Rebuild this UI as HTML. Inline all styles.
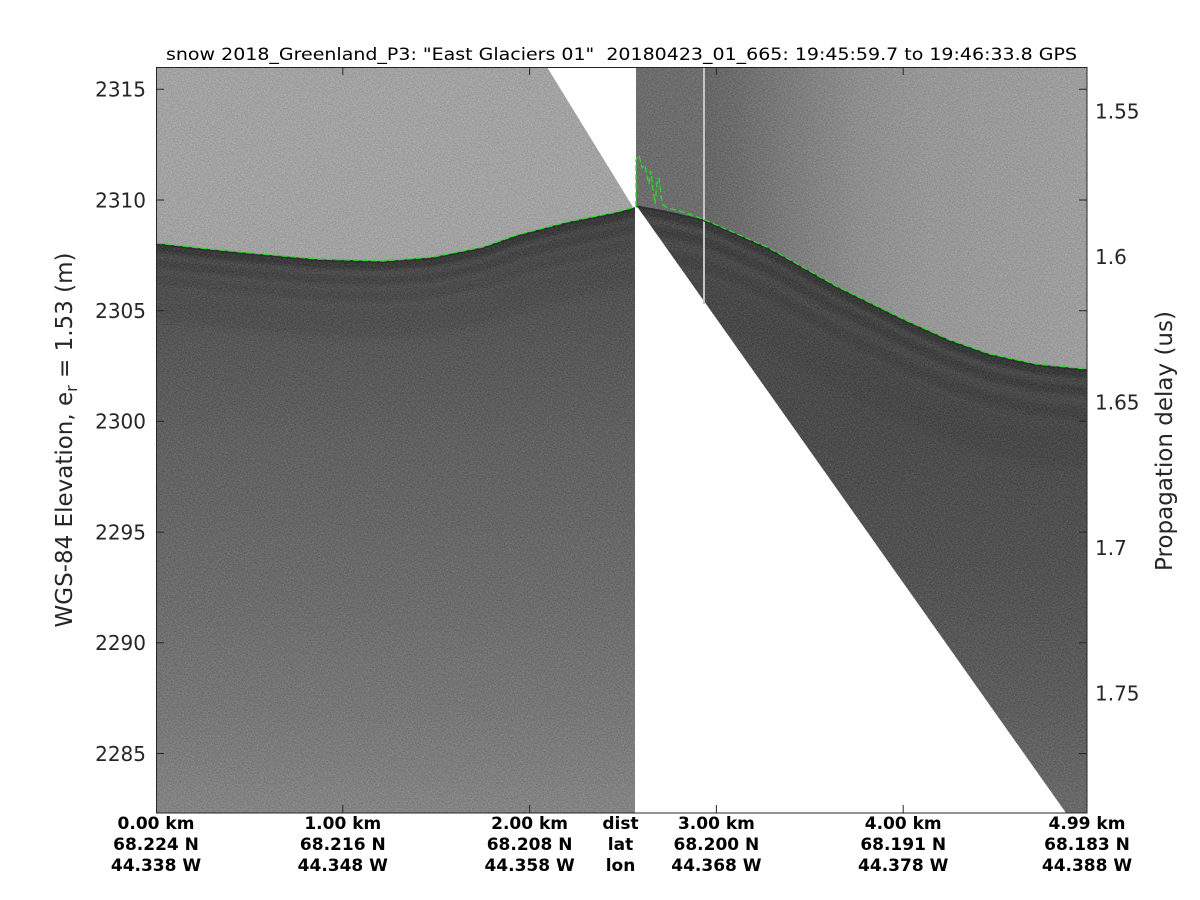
<!DOCTYPE html>
<html>
<head>
<meta charset="utf-8">
<style>
  html,body{margin:0;padding:0;background:#fff;}
  svg{display:block;}
  text{font-family:"DejaVu Sans","Liberation Sans",sans-serif;}
</style>
</head>
<body>
<svg width="1200" height="900" viewBox="0 0 1200 900" xmlns="http://www.w3.org/2000/svg">
  <defs>
    <linearGradient id="gLB" gradientUnits="userSpaceOnUse" x1="0" y1="200" x2="0" y2="813">
      <stop offset="0" stop-color="#4a4a4a"/>
      <stop offset="0.2" stop-color="#555555"/>
      <stop offset="0.4" stop-color="#616161"/>
      <stop offset="0.65" stop-color="#6c6c6c"/>
      <stop offset="0.85" stop-color="#787878"/>
      <stop offset="1" stop-color="#848484"/>
    </linearGradient>
    <linearGradient id="gRB" gradientUnits="userSpaceOnUse" x1="0" y1="200" x2="0" y2="813">
      <stop offset="0" stop-color="#4d4d4d"/>
      <stop offset="0.35" stop-color="#4b4b4b"/>
      <stop offset="0.6" stop-color="#525252"/>
      <stop offset="0.82" stop-color="#5d5d5d"/>
      <stop offset="1" stop-color="#6a6a6a"/>
    </linearGradient>
    <linearGradient id="gRA" gradientUnits="userSpaceOnUse" x1="636" y1="0" x2="1087" y2="0">
      <stop offset="0" stop-color="#6c6c6c"/>
      <stop offset="0.148" stop-color="#6e6e6e"/>
      <stop offset="0.152" stop-color="#666666"/>
      <stop offset="0.22" stop-color="#6c6c6c"/>
      <stop offset="0.36" stop-color="#7e7e7e"/>
      <stop offset="0.5" stop-color="#8e8e8e"/>
      <stop offset="0.65" stop-color="#979797"/>
      <stop offset="1" stop-color="#9e9e9e"/>
    </linearGradient>
    <clipPath id="clipLB">
      <path d="M156,243 L200,248 L250,253 L317,259 L383,261 L433,257 L483,247 L517,235 L567,222 L617,212 L635,207 L635,813 L156,813 Z"/>
    </clipPath>
    <clipPath id="clipRB">
      <path d="M636,205 L664,210 L703,219 L769,248 L836,286 L903,319 L950,340 L990,354 L1036,364 L1087,369 L1087,813 L1066,813 Z"/>
    </clipPath>
    <filter id="blur2" x="-5%" y="-20%" width="110%" height="140%">
      <feGaussianBlur stdDeviation="2.5"/>
    </filter>
    <filter id="nz" filterUnits="userSpaceOnUse" x="156" y="67" width="931" height="746" color-interpolation-filters="sRGB">
      <feTurbulence type="fractalNoise" baseFrequency="0.7" numOctaves="2" seed="7" result="t"/>
      <feColorMatrix in="t" type="matrix" values="1 0 0 0 0  1 0 0 0 0  1 0 0 0 0  0 0 0 0 1" result="g"/>
      <feComposite in="SourceGraphic" in2="g" operator="arithmetic" k1="0" k2="1" k3="0.22" k4="-0.11" result="c"/>
      <feComposite in="c" in2="SourceAlpha" operator="in"/>
    </filter>
  </defs>

  <!-- Echogram data -->
  <g filter="url(#nz)">
    <!-- Left panel above surface -->
    <path d="M156,67 L547,67 L633,207 L617,212 L567,222 L517,235 L483,247 L433,257 L383,261 L317,259 L250,253 L200,248 L156,243 Z" fill="#a2a2a2"/>
    <!-- Left panel below surface -->
    <path d="M156,243 L200,248 L250,253 L317,259 L383,261 L433,257 L483,247 L517,235 L567,222 L617,212 L635,207 L635,813 L156,813 Z" fill="url(#gLB)"/>
    <g clip-path="url(#clipLB)">
      <g filter="url(#blur2)" fill="none">
        <path d="M156,243 L200,248 L250,253 L317,259 L383,261 L433,257 L483,247 L517,235 L567,222 L617,212 L635,207" transform="translate(0,5)" stroke="#2e2e2e" stroke-width="9" opacity="0.7"/>
        <path d="M156,243 L200,248 L250,253 L317,259 L383,261 L433,257 L483,247 L517,235 L567,222 L617,212 L635,207" transform="translate(0,20)" stroke="#383838" stroke-width="10" opacity="0.5"/>
        <path d="M156,243 L200,248 L250,253 L317,259 L383,261 L433,257 L483,247 L517,235 L567,222 L617,212 L635,207" transform="translate(0,36)" stroke="#3c3c3c" stroke-width="12" opacity="0.4"/>
        <path d="M156,243 L200,248 L250,253 L317,259 L383,261 L433,257 L483,247 L517,235 L567,222 L617,212 L635,207" transform="translate(0,62)" stroke="#464646" stroke-width="30" opacity="0.28"/>
      </g>
    </g>
    <!-- Right panel above surface -->
    <path d="M636,67 L1087,67 L1087,369 L1036,364 L990,354 L950,340 L903,319 L836,286 L769,248 L703,219 L664,210 L636,205 Z" fill="url(#gRA)"/>
    <!-- Right panel below surface -->
    <path d="M636,205 L664,210 L703,219 L769,248 L836,286 L903,319 L950,340 L990,354 L1036,364 L1087,369 L1087,813 L1066,813 Z" fill="url(#gRB)"/>
    <g clip-path="url(#clipRB)">
      <g filter="url(#blur2)" fill="none">
        <path d="M636,205 L664,210 L703,219 L769,248 L836,286 L903,319 L950,340 L990,354 L1036,364 L1087,369" transform="translate(0,5)" stroke="#2c2c2c" stroke-width="9" opacity="0.7"/>
        <path d="M636,205 L664,210 L703,219 L769,248 L836,286 L903,319 L950,340 L990,354 L1036,364 L1087,369" transform="translate(0,22)" stroke="#323232" stroke-width="10" opacity="0.5"/>
        <path d="M636,205 L664,210 L703,219 L769,248 L836,286 L903,319 L950,340 L990,354 L1036,364 L1087,369" transform="translate(0,45)" stroke="#363636" stroke-width="14" opacity="0.4"/>
        <path d="M636,205 L664,210 L703,219 L769,248 L836,286 L903,319 L950,340 L990,354 L1036,364 L1087,369" transform="translate(0,80)" stroke="#3e3e3e" stroke-width="40" opacity="0.25"/>
      </g>
    </g>
  </g>

  <!-- light vertical line -->
  <rect x="703" y="67" width="2" height="237" fill="#c4c4c4"/>

  <!-- dark line under surface pick -->
  <path d="M156,243 L200,248 L250,253 L317,259 L383,261 L433,257 L483,247 L517,235 L567,222 L617,212 L635,207" transform="translate(0,1.5)" fill="none" stroke="#2a2a2a" stroke-width="1.5" opacity="0.8"/>
  <path d="M636,205 L664,210 L703,219 L769,248 L836,286 L903,319 L950,340 L990,354 L1036,364 L1087,369" transform="translate(0,1.5)" fill="none" stroke="#2a2a2a" stroke-width="1.5" opacity="0.8"/>

  <!-- Green surface picks (dashed) -->
  <g fill="none" stroke="#22e022" stroke-width="1.3" stroke-dasharray="6 3">
    <path d="M156,243 L200,248 L250,253 L317,259 L383,261 L433,257 L483,247 L517,235 L567,222 L617,212 L635,207"/>
    <path d="M636,207 L636,160 L639,155 L642,168 L645,165 L647,176 L649,184 L651,171 L653,189 L655,204 L657,183 L659,178 L661,196 L663,205 L668,208 L680,211 L703,219 L769,248 L836,286 L903,319 L950,340 L990,354 L1036,364 L1087,369"/>
  </g>

  <!-- Axes box -->
  <rect x="156.5" y="67.5" width="930.5" height="745.5" fill="none" stroke="#262626" stroke-width="1"/>

  <!-- ticks -->
  <g stroke="#262626" stroke-width="1">
    <path d="M156,89.3 h8 M156,200 h8 M156,310.7 h8 M156,421.4 h8 M156,532.1 h8 M156,642.8 h8 M156,753.5 h8"/>
    <path d="M1087,89.3 h-8 M1087,200 h-8 M1087,310.7 h-8 M1087,421.4 h-8 M1087,532.1 h-8 M1087,642.8 h-8 M1087,753.5 h-8"/>
    <path d="M342.8,67 v8 M529.6,67 v8 M716.4,67 v8 M903.2,67 v8"/>
    <path d="M342.8,813 v-8 M529.6,813 v-8 M716.4,813 v-8 M903.2,813 v-8"/>
  </g>

  <!-- Title -->
  <text x="621.5" y="60" font-size="17" fill="#000" text-anchor="middle" textLength="911" lengthAdjust="spacingAndGlyphs" xml:space="preserve">snow 2018_Greenland_P3: "East Glaciers 01"  20180423_01_665: 19:45:59.7 to 19:46:33.8 GPS</text>

  <!-- Left tick labels -->
  <g font-size="20" fill="#262626" text-anchor="end">
    <text x="146" y="96.6">2315</text>
    <text x="146" y="207.3">2310</text>
    <text x="146" y="318">2305</text>
    <text x="146" y="428.7">2300</text>
    <text x="146" y="539.4">2295</text>
    <text x="146" y="650.1">2290</text>
    <text x="146" y="760.8">2285</text>
  </g>

  <!-- Right tick labels -->
  <g font-size="20" fill="#262626" text-anchor="start">
    <text x="1095" y="118.5">1.55</text>
    <text x="1095" y="264">1.6</text>
    <text x="1095" y="409.5">1.65</text>
    <text x="1095" y="555">1.7</text>
    <text x="1095" y="700.5">1.75</text>
  </g>

  <!-- Y axis labels -->
  <text transform="translate(72,440) rotate(-90)" font-size="23" fill="#262626" text-anchor="middle">WGS-84 Elevation, e<tspan font-size="16" dy="5">r</tspan><tspan dy="-5"> = 1.53 (m)</tspan></text>
  <text transform="translate(1172,441) rotate(-90)" font-size="23" fill="#262626" text-anchor="middle">Propagation delay (us)</text>

  <!-- Bottom labels -->
  <g font-size="17" font-weight="bold" fill="#000" text-anchor="middle">
    <text x="156" y="829">0.00 km</text>
    <text x="156" y="850">68.224 N</text>
    <text x="156" y="871">44.338 W</text>

    <text x="342.8" y="829">1.00 km</text>
    <text x="342.8" y="850">68.216 N</text>
    <text x="342.8" y="871">44.348 W</text>

    <text x="529.6" y="829">2.00 km</text>
    <text x="529.6" y="850">68.208 N</text>
    <text x="529.6" y="871">44.358 W</text>

    <text x="620.5" y="829">dist</text>
    <text x="620.5" y="850">lat</text>
    <text x="620.5" y="871">lon</text>

    <text x="716.4" y="829">3.00 km</text>
    <text x="716.4" y="850">68.200 N</text>
    <text x="716.4" y="871">44.368 W</text>

    <text x="903.2" y="829">4.00 km</text>
    <text x="903.2" y="850">68.191 N</text>
    <text x="903.2" y="871">44.378 W</text>

    <text x="1087" y="829">4.99 km</text>
    <text x="1087" y="850">68.183 N</text>
    <text x="1087" y="871">44.388 W</text>
  </g>
</svg>
</body>
</html>
